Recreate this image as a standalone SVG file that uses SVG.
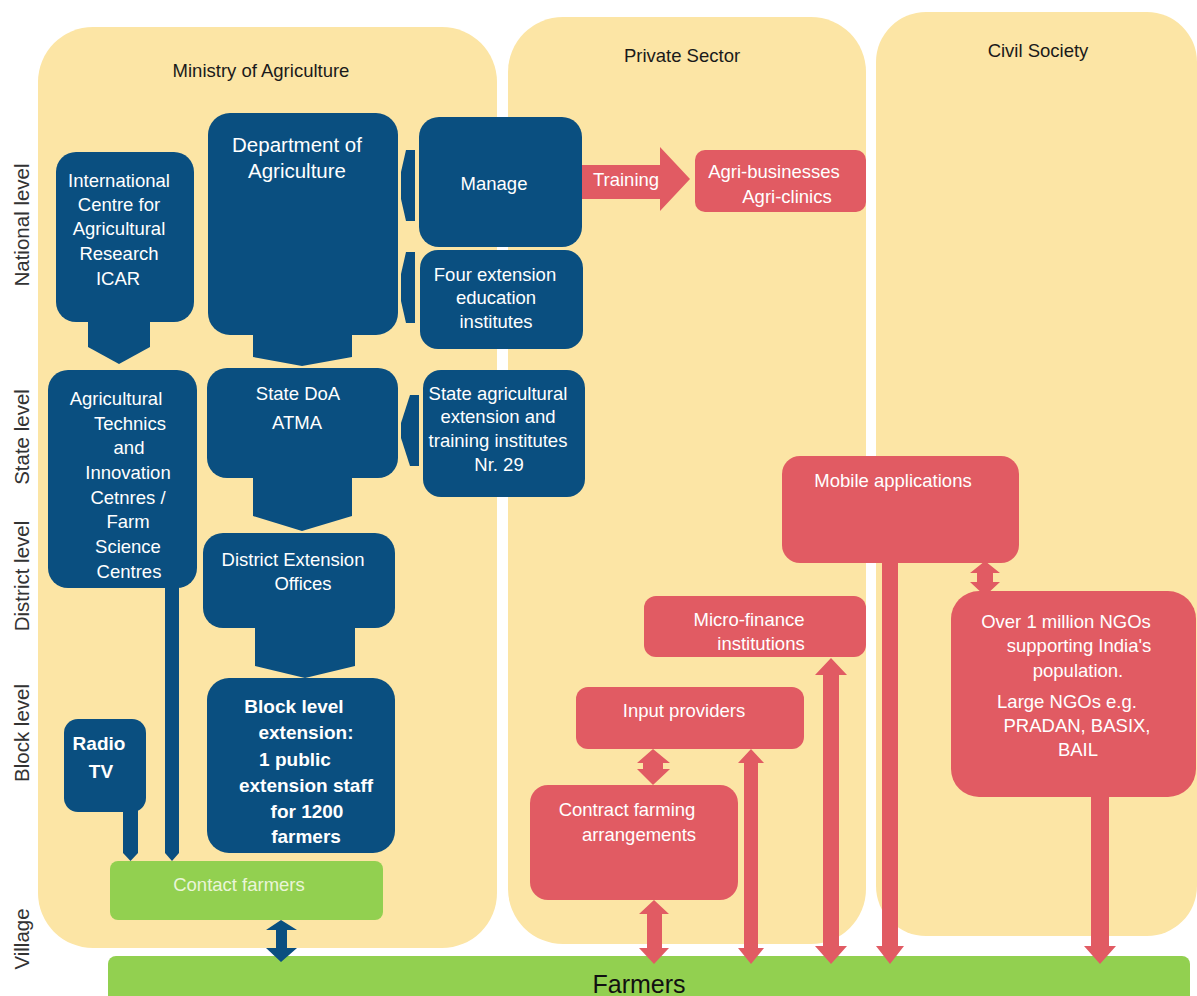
<svg xmlns="http://www.w3.org/2000/svg" width="1197" height="996" viewBox="0 0 1197 996">
  <style>
    .panel { fill: #FCE5A5; }
    .blue { fill: #0A4F80; }
    .red { fill: #E15B63; }
    .green { fill: #92D050; }
    text { font-family: "Liberation Sans", Arial, sans-serif; }
    .title { font-size: 18.5px; fill: #1a1a1a; text-anchor: middle; }
    .level { font-size: 20.5px; fill: #333333; text-anchor: middle; }
    .wt { font-size: 18.5px; fill: #ffffff; text-anchor: middle; }
    .wtl { font-size: 20.5px; fill: #ffffff; text-anchor: middle; }
    .wb { font-size: 19px; font-weight: bold; fill: #ffffff; text-anchor: middle; }
    .ct { font-size: 18.5px; fill: #EAF5D8; text-anchor: middle; }
    .big { font-size: 25px; fill: #111111; text-anchor: middle; }
  </style>

  <rect width="1197" height="996" fill="#ffffff"/>

  <!-- sector panels -->
  <g id="panel-ministry">
    <rect class="panel" x="38" y="27" width="459" height="921" rx="55"/>
    <text class="title" x="261" y="77">Ministry of Agriculture</text>
  </g>
  <g id="panel-private">
    <rect class="panel" x="508" y="17" width="358" height="927" rx="55"/>
    <text class="title" x="682" y="62">Private Sector</text>
  </g>
  <g id="panel-civil">
    <rect class="panel" x="876" y="12" width="321" height="924" rx="50"/>
    <text class="title" x="1038" y="57">Civil Society</text>
  </g>

  <!-- level labels -->
  <g id="levels">
    <text class="level" transform="translate(29,225) rotate(-90)">National level</text>
    <text class="level" transform="translate(29,437) rotate(-90)">State level</text>
    <text class="level" transform="translate(29,576) rotate(-90)">District level</text>
    <text class="level" transform="translate(29,733) rotate(-90)">Block level</text>
    <text class="level" transform="translate(29,939) rotate(-90)">Village</text>
  </g>

  <!-- public extension nodes -->
  <g id="icar">
    <rect class="blue" x="56" y="152" width="138" height="170" rx="20"/>
    <text class="wt" x="119" y="187">International</text>
    <text class="wt" x="119" y="211">Centre for</text>
    <text class="wt" x="119" y="235">Agricultural</text>
    <text class="wt" x="119" y="260">Research</text>
    <text class="wt" x="118" y="285">ICAR</text>
  </g>
  <g id="atic">
    <rect class="blue" x="48" y="370" width="149" height="218" rx="20"/>
    <text class="wt" x="116" y="405">Agricultural</text>
    <text class="wt" x="130" y="430">Technics</text>
    <text class="wt" x="129" y="454">and</text>
    <text class="wt" x="128" y="479">Innovation</text>
    <text class="wt" x="128" y="504">Cetnres /</text>
    <text class="wt" x="128" y="528">Farm</text>
    <text class="wt" x="128" y="553">Science</text>
    <text class="wt" x="129" y="578">Centres</text>
  </g>
  <g id="radio-tv">
    <rect class="blue" x="64" y="719" width="82" height="93" rx="14"/>
    <text class="wb" x="99" y="750">Radio</text>
    <text class="wb" x="101" y="778">TV</text>
  </g>
  <g id="dept-agriculture">
    <rect class="blue" x="208" y="113" width="190" height="222" rx="22"/>
    <text class="wtl" x="297" y="152">Department of</text>
    <text class="wtl" x="297" y="178">Agriculture</text>
  </g>
  <g id="manage">
    <rect class="blue" x="419" y="117" width="163" height="130" rx="20"/>
    <text class="wt" x="494" y="190">Manage</text>
  </g>
  <g id="extension-institutes">
    <rect class="blue" x="420" y="250" width="163" height="99" rx="18"/>
    <text class="wt" x="495" y="281">Four extension</text>
    <text class="wt" x="496" y="304">education</text>
    <text class="wt" x="496" y="328">institutes</text>
  </g>
  <g id="state-doa">
    <rect class="blue" x="207" y="368" width="191" height="110" rx="20"/>
    <text class="wt" x="298" y="400">State DoA</text>
    <text class="wt" x="297" y="429">ATMA</text>
  </g>
  <g id="state-institutes">
    <rect class="blue" x="423" y="370" width="162" height="127" rx="18"/>
    <text class="wt" x="498" y="400">State agricultural</text>
    <text class="wt" x="498" y="423">extension and</text>
    <text class="wt" x="498" y="447">training institutes</text>
    <text class="wt" x="499" y="471">Nr. 29</text>
  </g>
  <g id="district-offices">
    <rect class="blue" x="203" y="533" width="192" height="95" rx="20"/>
    <text class="wt" x="293" y="566">District Extension</text>
    <text class="wt" x="303" y="590">Offices</text>
  </g>
  <g id="block-extension">
    <rect class="blue" x="207" y="678" width="188" height="175" rx="22"/>
    <text class="wb" x="294" y="713">Block level</text>
    <text class="wb" x="306" y="739">extension:</text>
    <text class="wb" x="295" y="766">1 public</text>
    <text class="wb" x="306" y="792">extension staff</text>
    <text class="wb" x="307" y="818">for 1200</text>
    <text class="wb" x="306" y="843">farmers</text>
  </g>
  <g id="contact-farmers">
    <rect class="green" x="110" y="861" width="273" height="59" rx="8"/>
    <text class="ct" x="239" y="891">Contact farmers</text>
  </g>

  <!-- private sector nodes -->
  <g id="agri-businesses">
    <rect class="red" x="695" y="150" width="171" height="62" rx="10"/>
    <text class="wt" x="774" y="178">Agri-businesses</text>
    <text class="wt" x="787" y="203">Agri-clinics</text>
  </g>
  <g id="mobile-applications">
    <rect class="red" x="782" y="456" width="237" height="107" rx="18"/>
    <text class="wt" x="893" y="487">Mobile  applications</text>
  </g>
  <g id="micro-finance">
    <rect class="red" x="644" y="596" width="222" height="61" rx="12"/>
    <text class="wt" x="749" y="626">Micro-finance</text>
    <text class="wt" x="761" y="650">institutions</text>
  </g>
  <g id="input-providers">
    <rect class="red" x="576" y="687" width="228" height="62" rx="12"/>
    <text class="wt" x="684" y="717">Input providers</text>
  </g>
  <g id="contract-farming">
    <rect class="red" x="530" y="785" width="208" height="115" rx="18"/>
    <text class="wt" x="627" y="816">Contract farming</text>
    <text class="wt" x="639" y="841">arrangements</text>
  </g>

  <!-- civil society node -->
  <g id="ngos">
    <rect class="red" x="951" y="591" width="245" height="206" rx="28"/>
    <text class="wt" x="1066" y="628">Over 1 million NGOs</text>
    <text class="wt" x="1079" y="652">supporting India's</text>
    <text class="wt" x="1078" y="677">population.</text>
    <text class="wt" x="1067" y="708">Large NGOs e.g.</text>
    <text class="wt" x="1077" y="732">PRADAN, BASIX,</text>
    <text class="wt" x="1078" y="756">BAIL</text>
  </g>

  <!-- farmers bar -->
  <g id="farmers">
    <rect class="green" x="108" y="956" width="1082" height="50" rx="8"/>
    <text class="big" x="639" y="993">Farmers</text>
  </g>

  <!-- connectors -->
  <g id="connectors">
    <!-- downward chevrons in the public chain -->
    <polygon class="blue" points="88,320 150,320 150,347 119,364 88,347"/>
    <polygon class="blue" points="253,334 352,334 352,357 302,366 253,357"/>
    <polygon class="blue" points="253,477 352,477 352,516 302,531 253,516"/>
    <polygon class="blue" points="255,627 355,627 355,666 305,678 255,666"/>
    <!-- side tabs into the department / state boxes -->
    <polygon class="blue" points="415,150 415,221 406,221 401,199 401,172 406,150"/>
    <polygon class="blue" points="415,252 415,323 406,323 401,301 401,274 406,252"/>
    <polygon class="blue" points="419,395 419,466 410,466 401,438 401,423 410,395"/>
    <!-- feeds into contact farmers -->
    <polygon class="blue" points="165,586 179,586 179,853 172,861 165,853"/>
    <polygon class="blue" points="123,810 138,810 138,853 130.5,861 123,853"/>
    <!-- contact farmers to farmers -->
    <polygon class="blue" points="281,920 297,930 287,930 287,948 297,948 281,962 266,948 276,948 276,930 266,930"/>

    <!-- training arrow -->
    <polygon class="red" points="582,165 660,165 660,147 690,179 660,211 660,199 582,199"/>
    <text class="wt" x="626" y="186">Training</text>

    <!-- input providers to contract farming -->
    <polygon class="red" points="653,749 670,763 663,763 663,769 670,769 653,785 637,769 643,769 643,763 637,763"/>
    <!-- contract farming to farmers -->
    <polygon class="red" points="654,900 669,914 662,914 662,948 669,948 654,964 639,948 647,948 647,914 639,914"/>
    <!-- input providers to farmers -->
    <polygon class="red" points="751,749 764,763 758,763 758,948 764,948 751,964 738,948 744,948 744,763 738,763"/>
    <!-- micro-finance to farmers -->
    <polygon class="red" points="831,658 847,675 839,675 839,946 847,946 831,964 815,946 823,946 823,675 815,675"/>
    <!-- mobile applications to farmers -->
    <polygon class="red" points="882,562 898,562 898,946 904,946 890,964 876,946 882,946"/>
    <!-- mobile applications to NGOs -->
    <polygon class="red" points="985,561 1000,573 993,573 993,582 1000,582 985,596 970,582 977,582 977,573 970,573"/>
    <!-- NGOs to farmers -->
    <polygon class="red" points="1091,796 1109,796 1109,946 1116,946 1100,964 1084,946 1091,946"/>
  </g>
</svg>
